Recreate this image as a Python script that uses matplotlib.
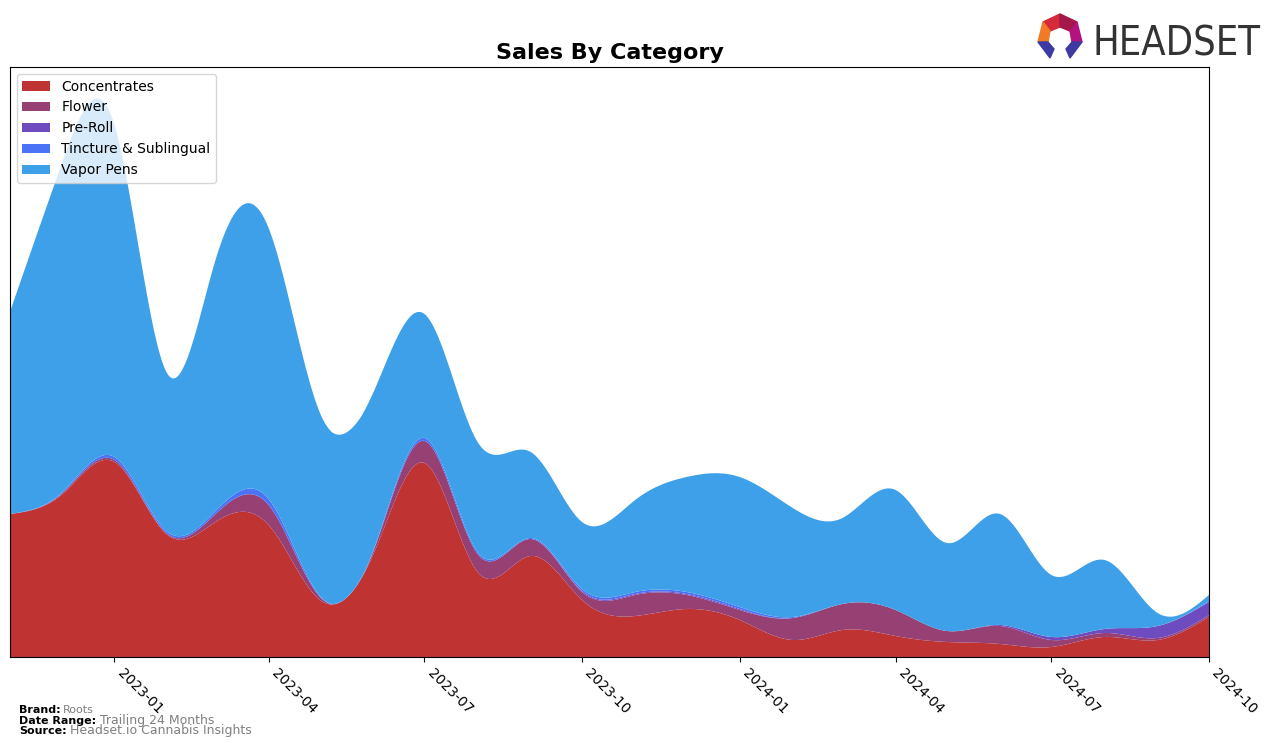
import matplotlib
matplotlib.use("Agg")
import matplotlib.pyplot as plt
import matplotlib.dates as mdates
from matplotlib.patches import Polygon
import numpy as np
import pandas as pd

# monthly values (arbitrary units)
months = pd.date_range("2022-11-01", "2024-10-01", freq="MS")
concentrates = [143, 162, 195, 122, 135, 132, 57, 102, 194, 85, 101, 57,
                41, 48, 37, 17, 27, 21, 15, 13, 10, 20, 17, 40]
flower = [0, 1, 2, 1, 8, 20, 3, 3, 22, 18, 17, 8,
          21, 14, 10, 22, 26, 26, 11, 18, 7, 4, 2, 2]
preroll = [0, 0, 0, 0, 0, 0, 0, 0, 0, 0, 0, 1,
           1, 1, 1, 0, 0, 0, 0, 1, 3, 4, 12, 13]
tincture = [0, 1, 3, 2, 3, 6, 1, 1, 3, 2, 1, 2,
            2, 2, 2, 1, 0, 0, 0, 0, 0, 0, 0, 1]
vapor = [202, 328, 332, 158, 251, 271, 183, 158, 124, 110, 86, 67,
         92, 115, 130, 109, 86, 120, 88, 111, 62, 69, 13, 6]
labels = ["Concentrates", "Flower", "Pre-Roll", "Tincture & Sublingual", "Vapor Pens"]
colors = ["#c03333", "#964074", "#6e4bbe", "#4a73f5", "#3ea0e8"]


def natural_spline(x, y, xs):
    # natural cubic spline, numpy only
    x = np.asarray(x, float); y = np.asarray(y, float)
    n = len(x)
    h = np.diff(x)
    A = np.zeros((n, n)); r = np.zeros(n)
    A[0, 0] = A[-1, -1] = 1
    for i in range(1, n - 1):
        A[i, i - 1] = h[i - 1]
        A[i, i] = 2 * (h[i - 1] + h[i])
        A[i, i + 1] = h[i]
        r[i] = 3 * ((y[i + 1] - y[i]) / h[i] - (y[i] - y[i - 1]) / h[i - 1])
    c = np.linalg.solve(A, r)
    b = (y[1:] - y[:-1]) / h - h * (2 * c[:-1] + c[1:]) / 3
    d = (c[1:] - c[:-1]) / (3 * h)
    idx = np.clip(np.searchsorted(x, xs) - 1, 0, n - 2)
    t = xs - x[idx]
    return y[idx] + b[idx] * t + c[idx] * t ** 2 + d[idx] * t ** 3


xnum = mdates.date2num(months)
xs = np.linspace(xnum[0], xnum[-1], 1200)
series = [concentrates, flower, preroll, tincture, vapor]
smooth = [np.clip(natural_spline(xnum, s, xs), 0, None) for s in series]

fig = plt.figure(figsize=(12.76, 7.47), dpi=100)
ax = fig.add_axes([0.0078, 0.1205, 0.9397, 0.7898])
ax.stackplot(xs, *smooth, labels=labels, colors=colors, linewidth=0.4,
             edgecolor="none")

ax.set_xlim(xnum[0], xnum[-1])
ax.set_ylim(0, 590)
ax.set_yticks([])
ticks = pd.date_range("2023-01-01", "2024-10-01", freq="3MS")
ax.set_xticks(mdates.date2num(ticks))
ax.set_xticklabels([t.strftime("%Y-%m") for t in ticks], rotation=-45,
                   ha="left", fontsize=10)
ax.set_title("Sales By Category", fontsize=16, fontweight="bold")
ax.legend(loc="upper left", fontsize=10)

# footer
fig.text(0.015, 0.045, "Brand:", fontsize=8, fontweight="bold")
fig.text(0.049, 0.045, "Roots", fontsize=8, color="gray")
fig.text(0.015, 0.031, "Date Range:", fontsize=8, fontweight="bold")
fig.text(0.078, 0.031, "Trailing 24 Months", fontsize=9, color="gray")
fig.text(0.015, 0.017, "Source:", fontsize=8, fontweight="bold")
fig.text(0.055, 0.017, "Headset.io Cannabis Insights", fontsize=9, color="gray")

# logo
W, H = 1276, 747
logo = fig.text(1092 / W, 1 - 56 / H, "HEADSET", fontsize=33, color="#333333",
                family="DejaVu Sans", fontstretch="condensed", va="baseline")
r = fig.canvas.get_renderer()
wpx = logo.get_window_extent(r).width
logo.set_fontsize(33 * 168 / wpx)


def pix(pts):
    return [(px / W, 1 - py / H) for px, py in pts]


shapes = [
    ([(1043, 22), (1060, 14), (1060, 27), (1050, 31)], "#d42a3a"),
    ([(1060, 14), (1077, 22), (1070, 31), (1060, 27)], "#a3174a"),
    ([(1043, 22), (1050, 31), (1048, 42), (1038, 42)], "#f07a25"),
    ([(1077, 22), (1082, 42), (1072, 42), (1070, 31)], "#b3137e"),
    ([(1038, 42), (1048, 42), (1054, 49), (1050, 58)], "#3d3aa3"),
    ([(1082, 42), (1072, 42), (1066, 49), (1070, 58)], "#3d3aa3"),
]
for pts, col in shapes:
    fig.patches.append(Polygon(pix(pts), closed=True, color=col,
                               transform=fig.transFigure, figure=fig))

fig.savefig("out.png", dpi=100)
